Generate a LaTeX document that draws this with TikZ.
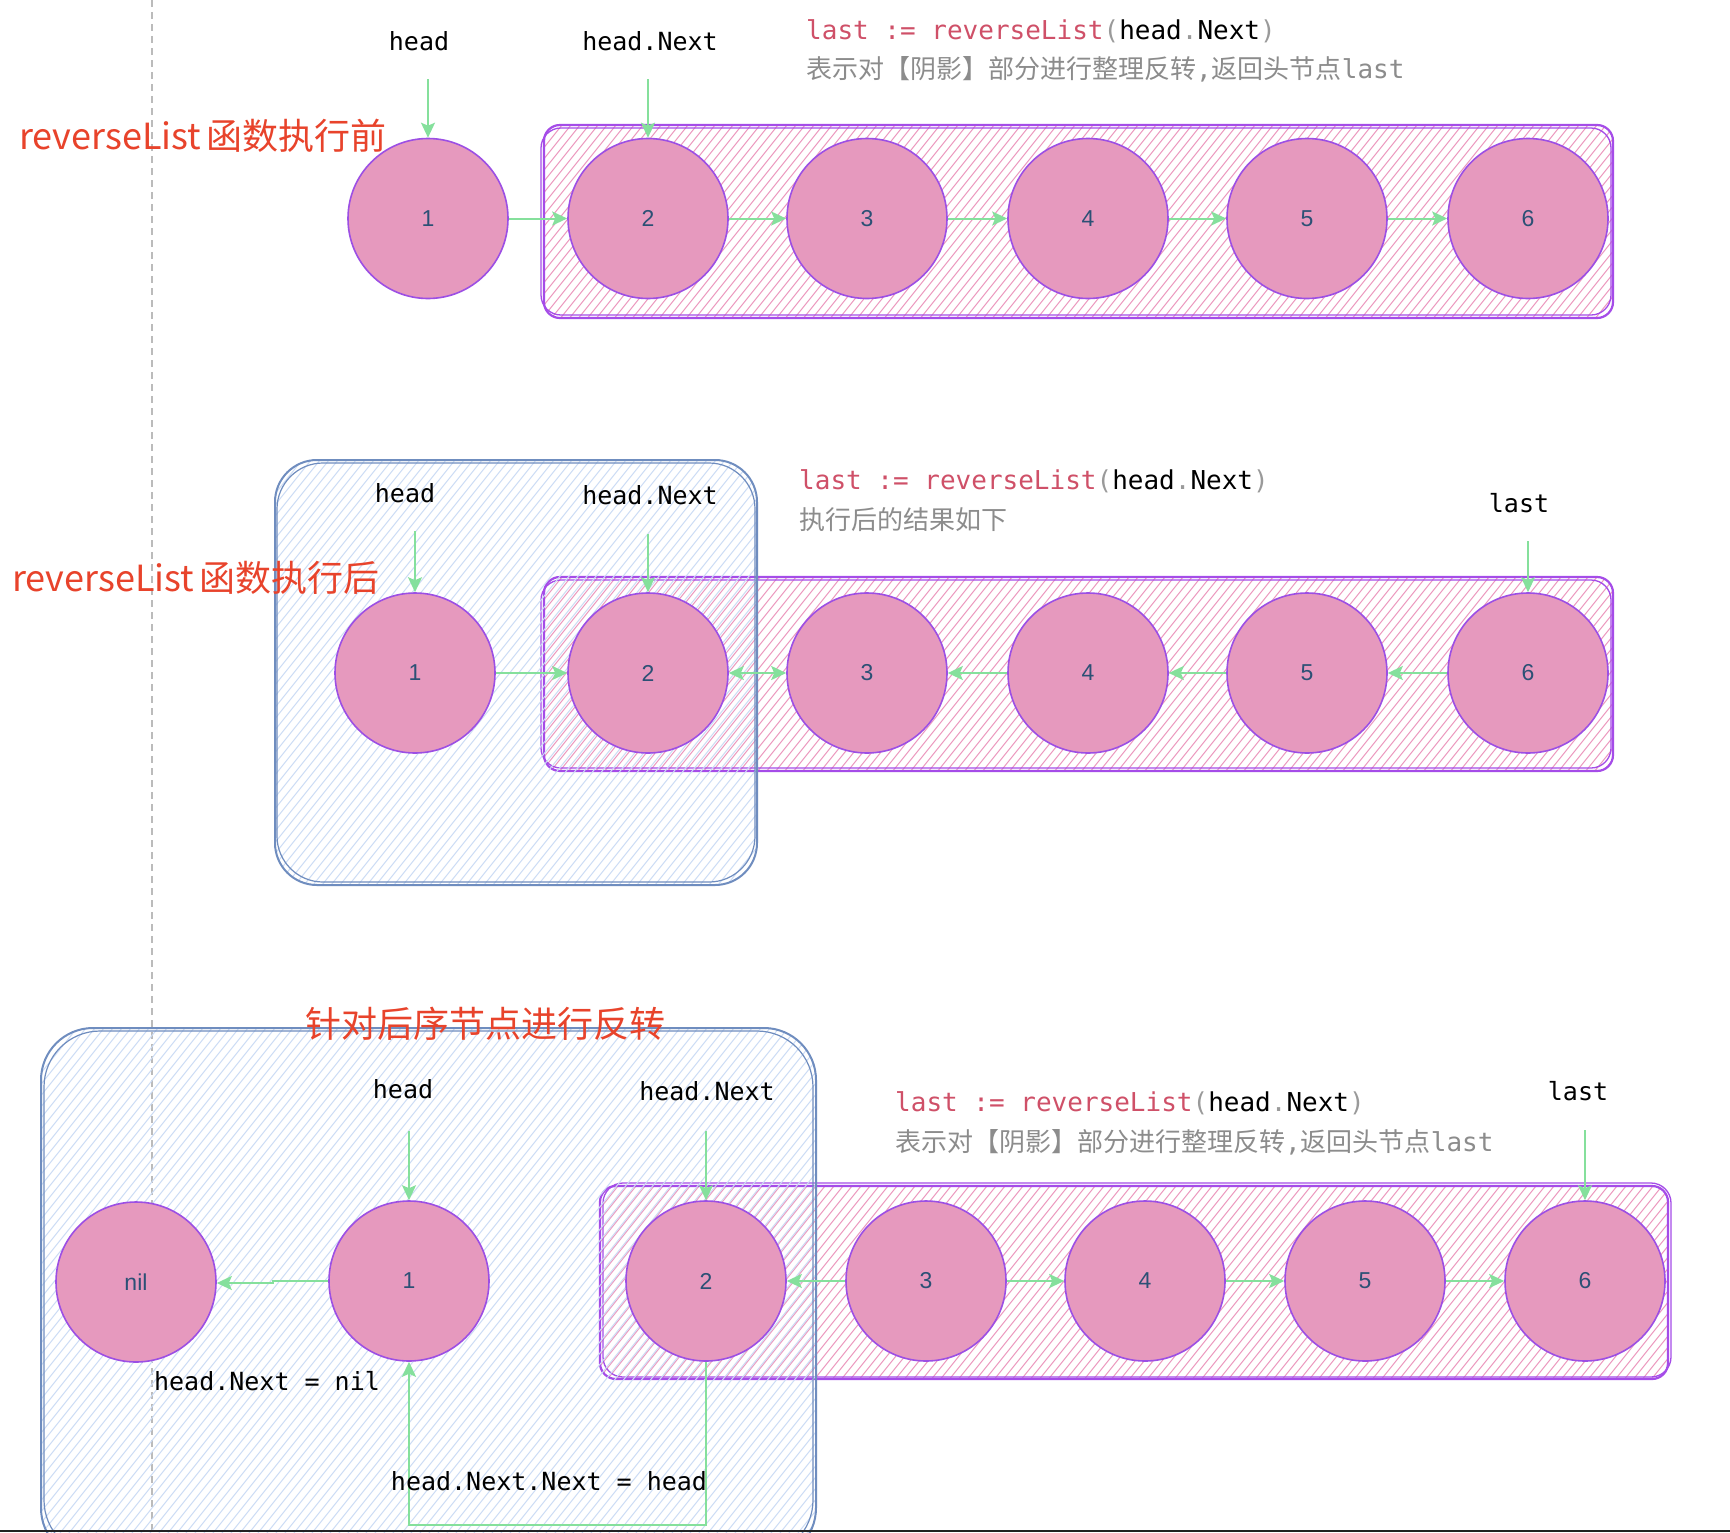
\documentclass[tikz,border=0pt]{standalone}
\usepackage{fontspec}
\newfontfamily\cjk{Noto Sans CJK SC}
\newfontfamily\monof{DejaVu Sans Mono}
\newfontfamily\numf{Liberation Sans}
\usetikzlibrary{arrows.meta,calc}
\definecolor{nodefill}{HTML}{E699BE}
\definecolor{nodeborder}{HTML}{9C4FE4}
\definecolor{nodetext}{HTML}{2C5075}
\definecolor{garrow}{HTML}{85E09C}
\definecolor{titlered}{HTML}{E8432B}
\definecolor{codered}{HTML}{CF5068}
\definecolor{codegray}{HTML}{9A9A9A}
\definecolor{commentgray}{HTML}{8C8C8C}
\definecolor{pinkhatch}{HTML}{EC98BE}
\definecolor{pinkborder}{HTML}{A54CE8}
\definecolor{bluehatch}{HTML}{CCDCF5}
\definecolor{blueborder}{HTML}{6F8DBF}
\definecolor{dashgray}{HTML}{BBBBBB}
\definecolor{barcol}{HTML}{222222}

\newcommand\myhatch[7]{%
  \begin{scope}
    \clip[rounded corners=#5] (#1,#2) rectangle (#3,#4);
    \pgfmathsetmacro\hh{(#4-#2)*0.80}
    \pgfmathsetmacro\xs{#1-\hh}
    \pgfmathsetmacro\xsn{\xs+#7}
    \foreach \s in {\xs,\xsn,...,#3} {\draw[#6] (\s,#4) -- ({\s+\hh},#2);}
  \end{scope}}

\tikzset{
  lnode/.style={circle, minimum size=160pt, inner sep=0pt, fill=nodefill, draw=nodeborder, line width=1.6pt, font=\numf\fontsize{23}{26}\selectfont, text=nodetext},
  garr/.style={draw=garrow, line width=2pt, -{Stealth[length=15pt,width=14pt,inset=3pt]}},
  garrboth/.style={draw=garrow, line width=2pt, {Stealth[length=15pt,width=14pt,inset=3pt]}-{Stealth[length=15pt,width=14pt,inset=3pt]}},
  garrthin/.style={draw=garrow, line width=1.5pt, -{Stealth[length=15pt,width=14pt,inset=3pt]}},
  monolbl/.style={font=\monof\fontsize{25}{28}\selectfont, text=black, inner sep=0pt},
  redtitle/.style={font=\cjk\fontsize{36}{40}\selectfont, text=titlered, inner sep=0pt},
  codeline/.style={font=\monof\fontsize{26}{30}\selectfont, anchor=west, inner sep=0pt, text=black},
  commentline/.style={font=\fontsize{26}{30}\selectfont, text=commentgray, anchor=west, inner sep=0pt},
  phatch/.style={draw=pinkhatch, line width=1pt},
  bhatch/.style={draw=bluehatch, line width=1pt},
  pborder/.style={draw=pinkborder, line width=2.2pt},
  bborder/.style={draw=blueborder, line width=2pt},
}

\newcommand\codetext{{\color{codered}last := reverseList}{\color{codegray}(}head{\color{codegray}.}Next{\color{codegray})}}
\newcommand\cmtA{{\cjk 表示对【阴影】部分进行整理反转}{\monof ,}{\cjk 返回头节点}{\monof last}}

\begin{document}
\begin{tikzpicture}[x=1pt,y=-1pt]
\useasboundingbox (0,0) rectangle (1730,1532);
\clip (0,0) rectangle (1730,1532);
\fill[white] (0,0) rectangle (1730,1532);

% dashed guide
\draw[dashgray, line width=1.5pt, dash pattern=on 7pt off 5pt] (152,0) -- (152,1530);

% ---------- Row 1 ----------
\myhatch{544}{125}{1613}{318}{16pt}{phatch}{9}
\draw[pborder, rounded corners=16pt] (544,125) rectangle (1613,318);
\draw[pborder, line width=1.3pt, rounded corners=20pt] (541,128) rectangle (1611,315);

% ---------- Row 2 ----------
\myhatch{544}{577}{1613}{771}{16pt}{phatch}{9}
\draw[pborder, rounded corners=16pt] (544,577) rectangle (1613,771);
\draw[pborder, line width=1.3pt, rounded corners=20pt] (541,580) rectangle (1611,768);
\myhatch{275}{460}{757}{885}{42pt}{bhatch}{9}
\draw[bborder, rounded corners=42pt] (275,460) rectangle (757,885);
\draw[bborder, line width=1.2pt, rounded corners=46pt] (277,463) rectangle (755,882);

% ---------- Row 3 ----------
\myhatch{600}{1186}{1668}{1379}{16pt}{phatch}{9}
\draw[pborder, rounded corners=16pt] (600,1186) rectangle (1668,1379);
\draw[pborder, line width=1.3pt, rounded corners=20pt] (603,1183) rectangle (1671,1377);
\myhatch{41}{1028}{816}{1560}{52pt}{bhatch}{9}
\draw[bborder, rounded corners=52pt] (41,1028) rectangle (816,1560);
\draw[bborder, line width=1.2pt, rounded corners=56pt] (44,1031) rectangle (813,1556);

% ---------- Titles ----------
\node[redtitle, anchor=west] (t1) at (19,136) {reverseList\hspace{5pt}函数执行前};
\node[redtitle, anchor=west] (t2) at (12,578) {reverseList\hspace{5pt}函数执行后};
\node[redtitle] (t3) at (485,1024) {针对后序节点进行反转};

% ---------- Row 1 nodes ----------
\node[lnode] (a1) at (428,218.5) {1};
\node[lnode] (a2) at (648,218.5) {2};
\node[lnode] (a3) at (867,218.5) {3};
\node[lnode] (a4) at (1088,218.5) {4};
\node[lnode] (a5) at (1307,218.5) {5};
\node[lnode] (a6) at (1528,218.5) {6};
\draw[garr] (a1) -- (a2);
\draw[garr] (a2) -- (a3);
\draw[garr] (a3) -- (a4);
\draw[garr] (a4) -- (a5);
\draw[garr] (a5) -- (a6);
\node[monolbl] (h1) at (419,41) {head};
\node[monolbl] (hn1) at (650,41) {head.Next};
\coordinate (h1s) at (428,79);
\coordinate (hn1s) at (648,79);
\draw[garrthin] (h1s) -- (a1);
\draw[garrthin] (hn1s) -- (a2);
\node[codeline] (code1) at (806,31) {\codetext};
\node[commentline] (cm1) at (806,69.5) {\cmtA};

% ---------- Row 2 nodes ----------
\node[lnode] (b1) at (415,673) {1};
\node[lnode] (b2) at (648,673) {2};
\node[lnode] (b3) at (867,673) {3};
\node[lnode] (b4) at (1088,673) {4};
\node[lnode] (b5) at (1307,673) {5};
\node[lnode] (b6) at (1528,673) {6};
\draw[garr] (b1) -- (b2);
\draw[garrboth] (b2) -- (b3);
\draw[garr] (b4) -- (b3);
\draw[garr] (b5) -- (b4);
\draw[garr] (b6) -- (b5);
\node[monolbl] (h2) at (405,493) {head};
\node[monolbl] (hn2) at (650,495) {head.Next};
\node[monolbl] (l2) at (1519,503) {last};
\coordinate (h2s) at (415,531);
\coordinate (hn2s) at (648,534);
\coordinate (l2s) at (1528,541);
\draw[garrthin] (h2s) -- (b1);
\draw[garrthin] (hn2s) -- (b2);
\draw[garrthin] (l2s) -- (b6);
\node[codeline] (code2) at (799,481) {\codetext};
\node[commentline] (cm2) at (799,520) {\cjk 执行后的结果如下};

% ---------- Row 3 nodes ----------
\node[lnode] (cn) at (136,1282) {nil};
\node[lnode] (c1) at (409,1281) {1};
\node[lnode] (c2) at (706,1281) {2};
\node[lnode] (c3) at (926,1281) {3};
\node[lnode] (c4) at (1145,1281) {4};
\node[lnode] (c5) at (1365,1281) {5};
\node[lnode] (c6) at (1585,1281) {6};
\coordinate (j1) at (273,1281);
\coordinate (j2) at (273,1283);
\draw[garr] (c1.west) -- (j1) -- (j2) -- (cn.east |- j2);
\draw[garr] (c3) -- (c2);
\draw[garr] (c3) -- (c4);
\draw[garr] (c4) -- (c5);
\draw[garr] (c5) -- (c6);
\coordinate (p1) at (706,1525);
\coordinate (p2) at (409,1525);
\draw[garr] (c2.south) -- (p1) -- (p2) -- (c1.south);
\node[monolbl] (h3) at (403,1089) {head};
\node[monolbl] (hn3) at (707,1091) {head.Next};
\node[monolbl] (l3) at (1578,1091) {last};
\coordinate (h3s) at (409,1131);
\coordinate (hn3s) at (706,1131);
\coordinate (l3s) at (1585,1130);
\draw[garrthin] (h3s) -- (c1);
\draw[garrthin] (hn3s) -- (c2);
\draw[garrthin] (l3s) -- (c6);
\node[codeline] (code3) at (895,1103) {\codetext};
\node[commentline] (cm3) at (895,1142) {\cmtA};
\node[monolbl] (e1) at (267,1381) {head.Next = nil};
\node[monolbl] (e2) at (549,1481) {head.Next.Next = head};

% bottom bar
\fill[barcol] (0,1529.5) rectangle (1730,1532);
\end{tikzpicture}
\end{document}
